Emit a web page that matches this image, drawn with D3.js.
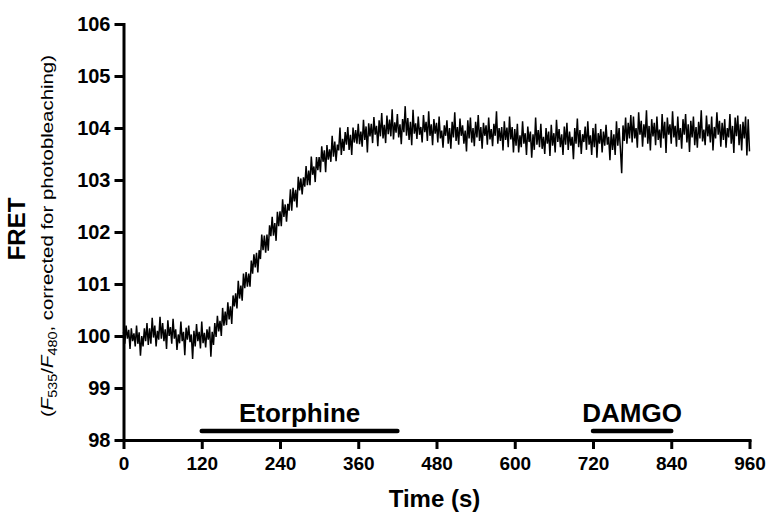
<!DOCTYPE html>
<html>
<head>
<meta charset="utf-8">
<script src="https://cdn.jsdelivr.net/npm/d3@7"></script>
<style>
    body { margin: 0; background: #fff; }
    svg { display: block; font-family: "Liberation Sans", Arial, sans-serif; }
    .axis path, .axis line { stroke: #000; stroke-width: 3px; }
    .axis text { font-weight: bold; fill: #000; }
    .axis--x text { font-size: 19px; }
    .axis--y text { font-size: 20px; }
</style>
</head>
<body>
<div id="chart"></div>
<script>
// sampling interval of the recording (s)
let sampleStep = 2;

// FRET ratio, one value per 2 s from 0 to 960 s
let fretValues = [
    // baseline 0-138 s
    100.08, 99.85, 100.2, 99.95, 100.12, 99.75, 100.15, 99.9, 100.05, 99.8,
    100.2, 99.85, 100.07, 99.62, 100.0, 99.8, 100.15, 99.9, 100.25, 99.83,
    100.15, 99.85, 100.35, 99.97, 100.2, 99.8, 100.1, 99.93, 100.37, 99.95,
    100.25, 99.9, 100.13, 99.75, 100.3, 100.0, 100.17, 99.85, 100.33, 99.95,
    100.13, 99.73, 100.03, 99.86, 100.28, 99.9, 100.08, 99.63, 100.16, 99.93,
    100.2, 99.88, 100.03, 99.56, 100.1, 99.8, 100.23, 99.9, 100.08, 99.76,
    100.28, 99.86, 100.06, 99.78, 100.13, 99.93, 100.18, 99.6, 100.08, 99.83,
    // rise 140-418 s
    100.25, 99.98, 100.39, 100.09, 100.29, 100.0, 100.54, 100.2, 100.47, 100.21,
    100.65, 100.32, 100.57, 100.23, 100.78, 100.57, 100.82, 100.53, 101.06, 100.72,
    100.97, 100.68, 101.2, 100.92, 101.23, 100.95, 101.2, 100.95, 101.45, 101.2,
    101.57, 101.32, 101.6, 101.22, 101.65, 101.48, 101.95, 101.65, 101.93, 101.6,
    101.95, 101.64, 102.13, 101.92, 102.29, 101.93, 102.17, 101.83, 102.39, 102.11,
    102.4, 102.11, 102.63, 102.29, 102.53, 102.2, 102.54, 102.41, 102.82, 102.41,
    102.85, 102.59, 102.81, 102.47, 103.06, 102.8, 103.03, 102.72, 103.05, 102.87,
    103.27, 102.9, 103.18, 102.9, 103.45, 103.1, 103.26, 102.96, 103.44, 103.19,
    103.44, 103.15, 103.65, 103.35, 103.57, 103.15, 103.67, 103.39, 103.59, 103.35,
    103.85, 103.45, 103.74, 103.36, 103.68, 103.57, 104.01, 103.48, 103.79, 103.56,
    103.92, 103.68, 104.02, 103.58, 103.87, 103.48, 104.01, 103.72, 103.96, 103.7,
    104.08, 103.69, 103.93, 103.64, 104.16, 103.77, 104.03, 103.53, 104.09, 103.84,
    104.08, 103.71, 104.21, 103.87, 104.04, 103.65, 104.15, 103.84, 104.29, 103.8,
    104.06, 103.71, 104.24, 103.88, 104.16, 103.84, 104.36, 103.78, 104.11, 103.91,
    // plateau 420-960 s
    104.27, 103.82, 104.07, 103.69, 104.17, 103.92, 104.42, 103.85, 104.19, 103.77,
    104.12, 103.67, 104.35, 103.89, 104.09, 103.79, 104.22, 103.87, 104.02, 103.72,
    104.25, 103.92, 104.12, 103.75, 104.32, 103.85, 104.07, 103.67, 104.17, 103.89,
    104.1, 103.72, 104.22, 103.8, 103.95, 103.62, 104.05, 103.85, 104.15, 103.7,
    104.0, 103.6, 104.12, 103.82, 104.3, 103.75, 104.02, 103.68, 104.18, 103.85,
    104.05, 103.7, 103.95, 103.55, 104.15, 103.8, 104.2, 103.72, 104.0, 103.65,
    104.12, 103.82, 104.25, 103.75, 104.02, 103.6, 104.1, 103.85, 104.05, 103.68,
    104.2, 103.78, 103.98, 103.65, 104.08, 103.85, 104.32, 103.7, 104.0, 103.75,
    104.02, 103.57, 104.13, 103.77, 104.01, 103.63, 104.22, 103.78, 104.02, 103.53,
    103.98, 103.66, 104.08, 103.53, 103.86, 103.63, 104.13, 103.7, 103.9, 103.48,
    104.03, 103.73, 103.93, 103.43, 103.88, 103.58, 104.2, 103.68, 103.96, 103.63,
    104.08, 103.6, 103.83, 103.5, 104.0, 103.7, 103.93, 103.46, 104.06, 103.66,
    103.9, 103.53, 104.16, 103.73, 103.98, 103.63, 103.88, 103.48, 104.03, 103.68,
    104.1, 103.58, 103.93, 103.66, 103.83, 103.4, 104.0, 103.7, 104.18, 103.63,
    103.96, 103.5, 103.88, 103.73, 104.03, 103.58, 104.13, 103.68, 103.86, 103.48,
    104.0, 103.63, 104.08, 103.43, 103.9, 103.7, 103.98, 103.53, 103.93, 103.66,
    104.06, 103.68, 103.83, 103.38, 103.96, 103.58, 103.88, 103.48, 104.13, 103.66,
    104.0, 103.6, 103.13, 104.05, 103.75, 104.2, 103.7, 104.1, 103.8, 104.25,
    103.72, 104.22, 103.8, 104.0, 103.62, 104.3, 103.87, 104.14, 103.64, 104.07,
    103.82, 104.34, 103.7, 104.04, 103.57, 104.17, 103.84, 104.1, 103.67, 104.22,
    103.77, 103.97, 103.62, 104.27, 103.8, 104.12, 103.52, 104.2, 103.87, 104.07,
    103.7, 104.32, 103.82, 104.04, 103.64, 104.22, 103.77, 104.0, 103.6, 104.17,
    103.87, 104.27, 103.72, 104.07, 103.54, 104.14, 103.82, 104.22, 103.67, 104.02,
    103.62, 104.12, 103.8, 104.34, 103.74, 103.97, 103.67, 104.24, 103.84, 104.07,
    103.72, 104.22, 103.57, 104.02, 103.8, 104.3, 103.87, 104.14, 103.64, 104.1,
    103.77, 104.17, 103.62, 104.0, 103.82, 104.27, 103.7, 104.04, 103.52, 104.2,
    103.84, 104.24, 103.67, 104.07, 103.57, 104.12, 103.8, 104.22, 103.47, 104.17,
    103.55
];

// drug application bars
let drugNames = ["Etorphine", "DAMGO"];
let drugStart = [120, 720];
let drugEnd = [420, 840];

// ticks
let xTicks = [0, 120, 240, 360, 480, 600, 720, 840, 960];
let yTicks = [98, 99, 100, 101, 102, 103, 104, 105, 106];

let width = 770, height = 514;

let svg = d3.select("#chart").append("svg")
    .attr("width", width)
    .attr("height", height);

// scales
let x = d3.scaleLinear().domain([0, 960]).range([123.5, 749.5]);
let y = d3.scaleLinear().domain([98, 106]).range([440, 24]);

// trace
let line = d3.line()
    .x((d, i) => x(i * sampleStep))
    .y(d => y(d));

svg.append("path")
    .datum(fretValues)
    .attr("d", line)
    .attr("fill", "none")
    .attr("stroke", "#000")
    .attr("stroke-width", 1.5);

// axes
svg.append("g")
    .attr("class", "axis axis--x")
    .attr("transform", "translate(0," + y(98) + ")")
    .call(d3.axisBottom(x).tickValues(xTicks).tickSize(9).tickSizeOuter(0).tickPadding(8));

svg.append("g")
    .attr("class", "axis axis--y")
    .attr("transform", "translate(" + x(0) + ",0)")
    .call(d3.axisLeft(y).tickValues(yTicks).tickSize(9).tickSizeOuter(0).tickPadding(4));

svg.selectAll(".axis path").attr("stroke-linecap", "square");

// drug bars and labels
let drugs = svg.append("g").attr("class", "drugs");

drugs.selectAll("line")
    .data(drugNames)
    .enter().append("line")
    .attr("x1", (d, i) => x(drugStart[i]))
    .attr("x2", (d, i) => x(drugEnd[i]))
    .attr("y1", y(98) - 9)
    .attr("y2", y(98) - 9)
    .attr("stroke", "#000")
    .attr("stroke-width", 4.5)
    .attr("stroke-linecap", "round");

drugs.selectAll("text")
    .data(drugNames)
    .enter().append("text")
    .attr("x", (d, i) => x((drugStart[i] + drugEnd[i]) / 2))
    .attr("y", y(98) - 18)
    .attr("text-anchor", "middle")
    .style("font-size", "26px")
    .style("font-weight", "bold")
    .text(d => d);

// axis titles
svg.append("text")
    .attr("x", (x(0) + x(960)) / 2 - 2)
    .attr("y", 507)
    .attr("text-anchor", "middle")
    .style("font-size", "24px")
    .style("font-weight", "bold")
    .text("Time (s)");

svg.append("text")
    .attr("transform", "translate(25,229) rotate(-90)")
    .attr("text-anchor", "middle")
    .style("font-size", "24px")
    .style("font-weight", "bold")
    .text("FRET");

let sub = svg.append("text")
    .attr("transform", "translate(53,236) rotate(-90) scale(1.2,1)")
    .attr("text-anchor", "middle")
    .style("font-size", "17px");

sub.append("tspan").text("(");
sub.append("tspan").style("font-style", "italic").text("F");
sub.append("tspan").attr("dy", 4).style("font-size", "12px").text("535");
sub.append("tspan").attr("dy", -4).text("/");
sub.append("tspan").style("font-style", "italic").text("F");
sub.append("tspan").attr("dy", 4).style("font-size", "12px").text("480");
sub.append("tspan").attr("dy", -4).text(", corrected for photobleaching)");
</script>
</body>
</html>
